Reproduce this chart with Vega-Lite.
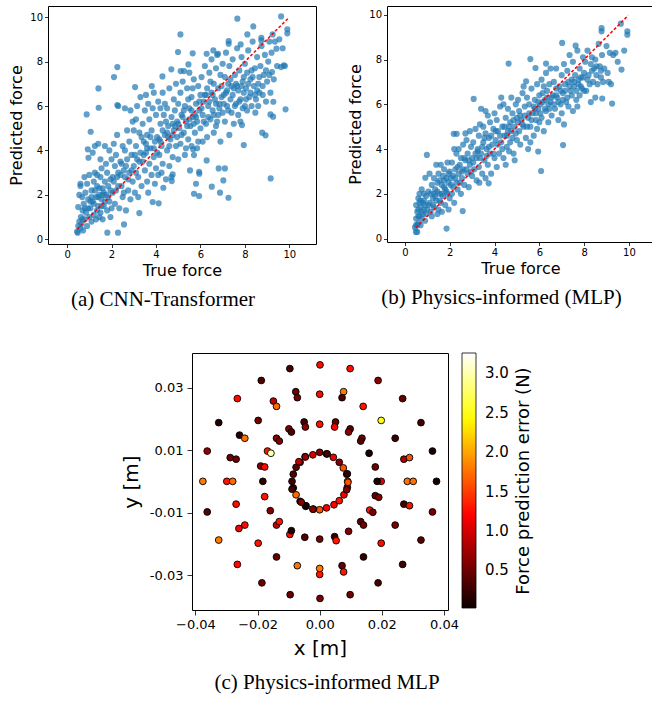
{
"$schema": "https://vega.github.io/schema/vega-lite/v6.json",
"background": "white",
"padding": {"left": 8, "top": 5, "right": 0, "bottom": 0},
"config": {
 "font": "DejaVu Sans",
 "view": {"stroke": "#000", "strokeWidth": 1},
 "axis": {"grid": false, "domain": false, "tickColor": "#000", "tickWidth": 0.8, "labelColor": "#000", "titleColor": "#000", "titleFontWeight": "normal", "labelFont": "DejaVu Sans", "titleFont": "DejaVu Sans"},
 "legend": {"labelColor": "#000", "titleColor": "#000", "labelFont": "DejaVu Sans", "titleFont": "DejaVu Sans"},
 "title": {"font": "Liberation Serif", "fontWeight": "normal", "fontSize": 21, "color": "#000"}
},
"datasets": {
 "a": [
{"t":9.63,"p":10.03},{"t":7.66,"p":9.93},{"t":9.91,"p":9.45},{"t":9.91,"p":9.27},{"t":8.38,"p":9.58},{"t":5.10,"p":9.22},{"t":8.11,"p":9.22},{"t":9.25,"p":9.22},{"t":8.74,"p":9.07},{"t":8.74,"p":8.95},{"t":7.27,"p":8.92},{"t":7.27,"p":8.8},{"t":9.42,"p":8.58},{"t":4.99,"p":8.43},{"t":5.65,"p":8.37},{"t":7.81,"p":8.77},{"t":6.79,"p":8.35},{"t":6.58,"p":8.5},{"t":6.28,"p":8.35},{"t":5.46,"p":7.87},{"t":2.26,"p":7.75},{"t":2.11,"p":7.3},{"t":4.69,"p":7.65},{"t":5.11,"p":7.57},{"t":5.26,"p":7.57},{"t":4.29,"p":7.33},{"t":9.22,"p":7.53},{"t":9.75,"p":7.83},{"t":9.63,"p":7.75},{"t":1.41,"p":6.79},{"t":3.06,"p":6.85},{"t":3.81,"p":6.9},{"t":1.42,"p":5.92},{"t":0.88,"p":5.62},{"t":2.26,"p":6.04},{"t":1.06,"p":4.84},{"t":0.93,"p":4.05},{"t":0.96,"p":3.67},{"t":9.28,"p":6.19},{"t":9.83,"p":5.85},{"t":9.15,"p":5.62},{"t":9.27,"p":5.52},{"t":8.78,"p":4.8},{"t":8.93,"p":4.68},{"t":8.47,"p":5.7},{"t":7.95,"p":4.24},{"t":7.87,"p":5.14},{"t":9.16,"p":2.74},{"t":7.26,"p":1.87},{"t":6.88,"p":2.1},{"t":7.03,"p":2.65},{"t":6.82,"p":3.19},{"t":7.1,"p":3.19},{"t":6.51,"p":2.37},{"t":5.94,"p":1.95},{"t":5.71,"p":2.05},{"t":5.8,"p":2.5},{"t":5.94,"p":3.04},{"t":5.95,"p":2.95},{"t":5.53,"p":3.1},{"t":6.28,"p":3.55},{"t":5.71,"p":3.79},{"t":5.67,"p":4.05},{"t":4.71,"p":2.62},{"t":4.75,"p":2.92},{"t":4.12,"p":1.62},{"t":3.85,"p":1.68},{"t":3.25,"p":1.18},{"t":1.81,"p":0.3},{"t":2.29,"p":0.3},{"t":2.56,"p":0.67},{"t":0.48,"p":0.3},{"t":4.33,"p":2.32},
{"t":0.45,"p":0.35},{"t":0.5,"p":0.6},{"t":0.55,"p":0.8},{"t":0.6,"p":0.5},{"t":0.62,"p":1.0},{"t":0.65,"p":0.7},{"t":0.7,"p":1.3},{"t":0.72,"p":0.4},{"t":0.75,"p":1.6},{"t":0.8,"p":0.9},{"t":0.82,"p":2.1},{"t":0.85,"p":1.2},{"t":0.9,"p":0.6},{"t":0.9,"p":2.5},{"t":0.95,"p":1.8},{"t":1.0,"p":1.0},{"t":0.5,"p":1.45},{"t":0.55,"p":2.0},{"t":0.6,"p":2.5},{"t":0.68,"p":1.9},{"t":0.78,"p":2.8},{"t":1.0,"p":2.9},{"t":0.6,"p":2.4},
{"t":1.05,"p":1.4},{"t":1.1,"p":2.2},{"t":1.1,"p":0.8},{"t":1.15,"p":1.7},{"t":1.2,"p":2.6},{"t":1.2,"p":1.1},{"t":1.25,"p":3.0},{"t":1.3,"p":1.9},{"t":1.3,"p":0.9},{"t":1.35,"p":2.4},{"t":1.4,"p":1.5},{"t":1.4,"p":4.3},{"t":1.45,"p":2.0},{"t":1.5,"p":2.8},{"t":1.5,"p":1.2},{"t":1.55,"p":3.2},{"t":1.55,"p":1.8},{"t":1.6,"p":2.3},{"t":1.6,"p":0.9},{"t":1.65,"p":1.5},{"t":1.7,"p":2.6},{"t":1.7,"p":4.2},{"t":1.75,"p":2.0},{"t":1.8,"p":1.3},{"t":1.8,"p":3.0},{"t":1.85,"p":2.4},{"t":1.9,"p":1.7},{"t":1.9,"p":4.0},{"t":1.95,"p":2.7},{"t":2.0,"p":1.4},{"t":2.0,"p":3.6},{"t":2.05,"p":2.1},{"t":1.25,"p":4.2},{"t":1.5,"p":3.6},{"t":1.15,"p":3.9},{"t":1.35,"p":2.9},{"t":1.45,"p":1.0},{"t":1.65,"p":2.1},{"t":1.75,"p":3.4},{"t":1.95,"p":1.0},
{"t":2.1,"p":2.6},{"t":2.15,"p":1.6},{"t":2.2,"p":3.8},{"t":2.2,"p":2.2},{"t":2.25,"p":4.7},{"t":2.3,"p":3.0},{"t":2.35,"p":1.4},{"t":2.4,"p":3.5},{"t":2.45,"p":2.4},{"t":2.5,"p":4.2},{"t":2.5,"p":1.9},{"t":2.55,"p":3.1},{"t":2.6,"p":2.8},{"t":2.6,"p":4.0},{"t":2.65,"p":1.3},{"t":2.7,"p":3.6},{"t":2.75,"p":2.2},{"t":2.8,"p":4.4},{"t":2.8,"p":3.0},{"t":2.85,"p":1.8},{"t":2.9,"p":3.8},{"t":2.95,"p":2.6},{"t":3.0,"p":4.9},{"t":3.0,"p":3.3},{"t":2.3,"p":6.0},{"t":2.6,"p":5.9},{"t":2.85,"p":5.8},{"t":2.95,"p":5.3},{"t":2.1,"p":4.3},{"t":2.4,"p":2.9},{"t":2.7,"p":4.9},{"t":2.15,"p":3.3},
{"t":3.05,"p":2.1},{"t":3.1,"p":4.2},{"t":3.1,"p":5.4},{"t":3.15,"p":3.6},{"t":3.2,"p":2.8},{"t":3.25,"p":4.8},{"t":3.3,"p":3.9},{"t":3.3,"p":6.4},{"t":3.35,"p":2.4},{"t":3.4,"p":5.2},{"t":3.45,"p":4.4},{"t":3.5,"p":3.1},{"t":3.5,"p":5.8},{"t":3.55,"p":3.9},{"t":3.6,"p":2.6},{"t":3.6,"p":4.7},{"t":3.65,"p":6.1},{"t":3.7,"p":3.4},{"t":3.7,"p":5.4},{"t":3.75,"p":4.1},{"t":3.8,"p":2.9},{"t":3.8,"p":4.9},{"t":3.85,"p":5.9},{"t":3.9,"p":3.7},{"t":3.9,"p":6.6},{"t":3.95,"p":4.4},{"t":4.0,"p":3.2},{"t":4.0,"p":5.6},{"t":3.2,"p":1.9},{"t":3.4,"p":3.5},{"t":3.65,"p":2.1},{"t":3.15,"p":6.0},{"t":3.55,"p":6.5},{"t":3.95,"p":2.5},
{"t":4.05,"p":4.6},{"t":4.1,"p":2.9},{"t":4.1,"p":6.2},{"t":4.15,"p":3.8},{"t":4.2,"p":5.2},{"t":4.25,"p":4.2},{"t":4.3,"p":6.6},{"t":4.3,"p":3.4},{"t":4.35,"p":5.6},{"t":4.4,"p":4.7},{"t":4.45,"p":2.7},{"t":4.5,"p":5.9},{"t":4.5,"p":4.0},{"t":4.55,"p":5.1},{"t":4.6,"p":3.3},{"t":4.6,"p":6.8},{"t":4.65,"p":4.5},{"t":4.7,"p":5.5},{"t":4.75,"p":3.7},{"t":4.8,"p":6.3},{"t":4.8,"p":4.9},{"t":4.85,"p":5.8},{"t":4.9,"p":4.2},{"t":4.9,"p":7.0},{"t":4.95,"p":5.3},{"t":5.0,"p":3.6},{"t":5.0,"p":6.1},{"t":4.2,"p":5.9},{"t":4.4,"p":6.1},{"t":4.7,"p":2.8},{"t":4.25,"p":3.0},{"t":4.55,"p":4.6},{"t":4.75,"p":5.2},{"t":4.95,"p":4.6},
{"t":5.05,"p":5.0},{"t":5.1,"p":6.6},{"t":5.1,"p":4.3},{"t":5.15,"p":5.6},{"t":5.2,"p":7.1},{"t":5.25,"p":4.8},{"t":5.3,"p":6.0},{"t":5.3,"p":3.8},{"t":5.35,"p":5.3},{"t":5.4,"p":6.8},{"t":5.45,"p":4.5},{"t":5.5,"p":5.9},{"t":5.5,"p":7.5},{"t":5.55,"p":5.1},{"t":5.6,"p":6.4},{"t":5.6,"p":4.2},{"t":5.65,"p":5.5},{"t":5.7,"p":7.2},{"t":5.75,"p":4.8},{"t":5.8,"p":6.1},{"t":5.85,"p":5.3},{"t":5.9,"p":6.9},{"t":5.9,"p":4.4},{"t":5.95,"p":5.8},{"t":6.0,"p":6.5},{"t":6.0,"p":5.0},{"t":5.2,"p":5.5},{"t":5.45,"p":6.3},{"t":5.75,"p":5.6},{"t":5.35,"p":4.1},{"t":5.65,"p":6.8},{"t":5.85,"p":4.1},
{"t":6.05,"p":7.3},{"t":6.1,"p":5.6},{"t":6.1,"p":4.4},{"t":6.15,"p":6.2},{"t":6.2,"p":7.8},{"t":6.25,"p":5.2},{"t":6.3,"p":6.8},{"t":6.3,"p":4.6},{"t":6.35,"p":6.0},{"t":6.4,"p":7.5},{"t":6.45,"p":5.4},{"t":6.5,"p":6.6},{"t":6.5,"p":8.1},{"t":6.55,"p":5.8},{"t":6.6,"p":7.0},{"t":6.6,"p":4.8},{"t":6.65,"p":6.3},{"t":6.7,"p":7.7},{"t":6.75,"p":5.3},{"t":6.8,"p":6.8},{"t":6.85,"p":5.9},{"t":6.9,"p":7.4},{"t":6.9,"p":4.4},{"t":6.95,"p":6.4},{"t":7.0,"p":5.7},{"t":7.0,"p":7.9},{"t":6.2,"p":6.5},{"t":6.45,"p":7.1},{"t":6.7,"p":5.1},{"t":6.85,"p":6.1},{"t":6.35,"p":5.5},{"t":6.75,"p":8.3},
{"t":7.05,"p":6.5},{"t":7.1,"p":7.3},{"t":7.1,"p":5.3},{"t":7.15,"p":8.4},{"t":7.2,"p":6.0},{"t":7.25,"p":7.0},{"t":7.3,"p":4.7},{"t":7.3,"p":7.8},{"t":7.35,"p":6.3},{"t":7.4,"p":5.7},{"t":7.45,"p":8.1},{"t":7.5,"p":6.8},{"t":7.5,"p":5.2},{"t":7.55,"p":7.4},{"t":7.6,"p":6.1},{"t":7.65,"p":8.6},{"t":7.7,"p":6.7},{"t":7.7,"p":5.6},{"t":7.75,"p":7.6},{"t":7.8,"p":6.3},{"t":7.85,"p":8.2},{"t":7.9,"p":5.9},{"t":7.9,"p":7.1},{"t":7.95,"p":6.6},{"t":8.0,"p":7.9},{"t":8.0,"p":6.0},{"t":7.2,"p":6.7},{"t":7.6,"p":7.0},{"t":7.8,"p":5.3},{"t":7.4,"p":6.9},
{"t":8.05,"p":6.8},{"t":8.1,"p":7.5},{"t":8.1,"p":5.8},{"t":8.15,"p":8.5},{"t":8.2,"p":6.4},{"t":8.25,"p":7.2},{"t":8.3,"p":6.0},{"t":8.35,"p":8.9},{"t":8.4,"p":6.9},{"t":8.45,"p":7.7},{"t":8.5,"p":6.3},{"t":8.55,"p":8.2},{"t":8.6,"p":7.0},{"t":8.65,"p":6.6},{"t":8.7,"p":7.8},{"t":8.75,"p":8.7},{"t":8.8,"p":6.9},{"t":8.85,"p":7.4},{"t":8.9,"p":8.3},{"t":8.95,"p":6.2},{"t":9.0,"p":7.1},{"t":8.3,"p":7.6},{"t":8.6,"p":6.0},{"t":8.45,"p":6.5},
{"t":9.05,"p":8.0},{"t":9.1,"p":8.9},{"t":9.15,"p":6.6},{"t":9.2,"p":8.4},{"t":9.3,"p":7.2},{"t":9.35,"p":8.9},{"t":9.45,"p":7.8},{"t":9.55,"p":9.0},{"t":9.7,"p":8.6},{"t":9.8,"p":7.8},
{"t":1.2,"p":1.6},{"t":1.35,"p":1.3},{"t":1.45,"p":2.3},{"t":1.55,"p":1.5},{"t":1.6,"p":2.0},{"t":1.7,"p":1.7},{"t":1.85,"p":1.9},{"t":1.4,"p":1.9},{"t":1.25,"p":2.2},{"t":1.1,"p":1.9},{"t":0.95,"p":1.4},{"t":0.7,"p":0.9},{"t":0.8,"p":1.4},{"t":1.05,"p":1.7},{"t":2.25,"p":2.8},{"t":2.45,"p":3.4},{"t":2.65,"p":3.3},{"t":2.3,"p":2.4},{"t":2.55,"p":2.1},{"t":2.9,"p":3.1},{"t":3.1,"p":3.0},{"t":3.25,"p":3.5},{"t":3.45,"p":3.8},{"t":3.6,"p":4.1},{"t":3.75,"p":4.6},{"t":3.9,"p":4.1},{"t":4.05,"p":3.9},{"t":4.15,"p":4.5},{"t":4.3,"p":4.9},{"t":4.45,"p":5.3},{"t":4.6,"p":4.2},{"t":4.75,"p":4.7},{"t":4.85,"p":5.1},{"t":5.0,"p":5.2},{"t":5.15,"p":4.7},{"t":5.25,"p":5.8},{"t":5.4,"p":5.1},{"t":5.5,"p":5.4},{"t":5.6,"p":5.8},{"t":5.7,"p":5.2},{"t":5.8,"p":5.5},{"t":5.95,"p":6.2},{"t":6.05,"p":5.9},{"t":6.15,"p":5.3},{"t":6.25,"p":6.5},{"t":6.4,"p":6.2},{"t":6.55,"p":6.5},{"t":6.6,"p":5.6},{"t":6.7,"p":6.1},{"t":6.8,"p":5.6},{"t":6.95,"p":6.9},{"t":7.05,"p":6.1},{"t":7.15,"p":6.6},{"t":7.25,"p":5.8},{"t":7.35,"p":7.2},{"t":7.45,"p":6.5},{"t":7.55,"p":6.0},{"t":7.65,"p":6.9},{"t":7.75,"p":6.2},{"t":7.85,"p":6.9},{"t":7.95,"p":7.3},{"t":8.05,"p":6.3},{"t":8.15,"p":7.0},{"t":8.25,"p":6.6},{"t":8.35,"p":7.3},{"t":8.55,"p":6.7},{"t":8.65,"p":7.3},{"t":8.8,"p":6.5},{"t":8.95,"p":7.6},{"t":9.1,"p":7.4},{"t":4.5,"p":4.8},{"t":4.2,"p":4.4},{"t":3.55,"p":4.3},{"t":3.35,"p":4.6},{"t":3.05,"p":3.8},{"t":2.75,"p":2.7},{"t":2.05,"p":2.8},{"t":1.95,"p":2.2}
 ],
 "b": [
{"t":4.63,"p":7.82},{"t":3.07,"p":6.24},{"t":0.98,"p":3.74},{"t":1.86,"p":0.45},{"t":6.08,"p":3.02},{"t":5.95,"p":3.89},{"t":7.06,"p":4.18},{"t":9.25,"p":6.03},{"t":8.81,"p":6.26},{"t":9.67,"p":7.55},{"t":9.79,"p":8.4},{"t":9.93,"p":9.26},{"t":9.93,"p":9.11},{"t":8.78,"p":9.4},{"t":8.78,"p":9.26},{"t":9.64,"p":9.6},{"t":7.02,"p":8.74},{"t":7.62,"p":8.62},{"t":5.6,"p":8.02},{"t":6.3,"p":7.82},{"t":5.83,"p":7.62},{"t":5.41,"p":7.03},{"t":2.18,"p":4.68},{"t":2.31,"p":4.68},{"t":2.58,"p":1.23},{"t":3.32,"p":2.5},{"t":3.74,"p":2.47},{"t":0.49,"p":0.3},{"t":0.91,"p":2.72},
{"t":0.45,"p":0.5},{"t":0.5,"p":0.9},{"t":0.5,"p":1.5},{"t":0.55,"p":0.3},{"t":0.55,"p":1.2},{"t":0.6,"p":0.7},{"t":0.6,"p":1.8},{"t":0.65,"p":1.0},{"t":0.65,"p":2.0},{"t":0.7,"p":0.6},{"t":0.7,"p":1.4},{"t":0.75,"p":2.2},{"t":0.75,"p":0.9},{"t":0.8,"p":1.6},{"t":0.8,"p":1.1},{"t":0.85,"p":2.0},{"t":0.9,"p":0.8},{"t":0.9,"p":1.5},{"t":0.95,"p":1.9},{"t":1.0,"p":1.3},{"t":0.6,"p":1.3},{"t":0.7,"p":1.7},{"t":0.85,"p":1.3},{"t":0.5,"p":0.6},
{"t":1.05,"p":2.1},{"t":1.1,"p":1.6},{"t":1.1,"p":2.9},{"t":1.15,"p":1.2},{"t":1.2,"p":2.4},{"t":1.25,"p":1.8},{"t":1.3,"p":2.7},{"t":1.3,"p":1.4},{"t":1.35,"p":2.2},{"t":1.4,"p":3.3},{"t":1.4,"p":1.7},{"t":1.45,"p":2.5},{"t":1.5,"p":1.3},{"t":1.5,"p":2.9},{"t":1.55,"p":2.0},{"t":1.6,"p":3.3},{"t":1.6,"p":1.6},{"t":1.65,"p":2.4},{"t":1.7,"p":2.8},{"t":1.7,"p":1.9},{"t":1.75,"p":3.1},{"t":1.8,"p":2.2},{"t":1.8,"p":1.5},{"t":1.85,"p":2.7},{"t":1.9,"p":3.4},{"t":1.9,"p":2.0},{"t":1.95,"p":2.5},{"t":2.0,"p":1.8},{"t":2.0,"p":3.0},{"t":1.2,"p":1.0},{"t":1.45,"p":1.1},{"t":1.65,"p":1.2},{"t":1.95,"p":1.3},{"t":1.3,"p":2.0},{"t":1.55,"p":2.6},{"t":1.75,"p":2.3},
{"t":2.05,"p":2.4},{"t":2.1,"p":3.4},{"t":2.1,"p":2.0},{"t":2.15,"p":2.8},{"t":2.2,"p":1.6},{"t":2.25,"p":3.1},{"t":2.3,"p":2.5},{"t":2.3,"p":3.8},{"t":2.35,"p":2.2},{"t":2.4,"p":4.0},{"t":2.4,"p":2.9},{"t":2.45,"p":3.3},{"t":2.5,"p":2.0},{"t":2.5,"p":3.6},{"t":2.55,"p":2.7},{"t":2.6,"p":4.2},{"t":2.6,"p":3.1},{"t":2.65,"p":2.4},{"t":2.7,"p":3.5},{"t":2.75,"p":4.4},{"t":2.8,"p":2.9},{"t":2.8,"p":3.8},{"t":2.85,"p":2.3},{"t":2.9,"p":3.3},{"t":2.95,"p":4.1},{"t":3.0,"p":2.8},{"t":3.0,"p":3.6},{"t":2.2,"p":4.0},{"t":2.7,"p":4.7},{"t":2.45,"p":2.5},{"t":2.9,"p":4.8},
{"t":3.05,"p":4.3},{"t":3.1,"p":3.1},{"t":3.15,"p":4.9},{"t":3.2,"p":3.6},{"t":3.2,"p":2.6},{"t":3.25,"p":4.0},{"t":3.3,"p":4.6},{"t":3.3,"p":3.2},{"t":3.35,"p":5.1},{"t":3.4,"p":3.8},{"t":3.45,"p":2.9},{"t":3.5,"p":4.3},{"t":3.5,"p":5.0},{"t":3.55,"p":3.5},{"t":3.6,"p":4.7},{"t":3.6,"p":2.7},{"t":3.65,"p":4.0},{"t":3.7,"p":5.5},{"t":3.7,"p":3.3},{"t":3.75,"p":4.5},{"t":3.8,"p":3.8},{"t":3.8,"p":5.2},{"t":3.85,"p":2.9},{"t":3.9,"p":4.2},{"t":3.95,"p":4.9},{"t":4.0,"p":3.6},{"t":4.0,"p":5.6},{"t":3.4,"p":5.8},{"t":3.6,"p":5.7},{"t":3.25,"p":3.9},
{"t":4.05,"p":4.4},{"t":4.1,"p":5.3},{"t":4.1,"p":3.2},{"t":4.15,"p":4.8},{"t":4.2,"p":3.8},{"t":4.25,"p":5.9},{"t":4.3,"p":4.3},{"t":4.35,"p":5.0},{"t":4.4,"p":3.6},{"t":4.4,"p":6.0},{"t":4.45,"p":4.6},{"t":4.5,"p":5.4},{"t":4.5,"p":3.3},{"t":4.55,"p":4.1},{"t":4.6,"p":5.8},{"t":4.6,"p":4.8},{"t":4.65,"p":3.9},{"t":4.7,"p":5.2},{"t":4.75,"p":6.3},{"t":4.8,"p":4.5},{"t":4.8,"p":5.6},{"t":4.85,"p":3.8},{"t":4.9,"p":5.0},{"t":4.95,"p":6.0},{"t":5.0,"p":4.4},{"t":5.0,"p":5.4},{"t":4.3,"p":6.3},{"t":4.7,"p":4.3},{"t":4.9,"p":3.5},
{"t":5.05,"p":6.2},{"t":5.1,"p":4.8},{"t":5.1,"p":5.7},{"t":5.15,"p":4.2},{"t":5.2,"p":5.3},{"t":5.25,"p":6.5},{"t":5.3,"p":5.0},{"t":5.35,"p":5.9},{"t":5.4,"p":4.5},{"t":5.45,"p":6.3},{"t":5.5,"p":5.4},{"t":5.5,"p":4.0},{"t":5.55,"p":6.0},{"t":5.6,"p":5.0},{"t":5.65,"p":6.7},{"t":5.7,"p":5.6},{"t":5.75,"p":4.6},{"t":5.8,"p":6.2},{"t":5.85,"p":5.3},{"t":5.9,"p":6.9},{"t":5.9,"p":4.9},{"t":5.95,"p":5.8},{"t":6.0,"p":6.4},{"t":6.0,"p":5.2},{"t":5.3,"p":6.8},{"t":5.6,"p":4.3},{"t":5.8,"p":5.8},
{"t":6.05,"p":6.0},{"t":6.1,"p":7.1},{"t":6.1,"p":5.4},{"t":6.15,"p":6.5},{"t":6.2,"p":4.8},{"t":6.25,"p":6.2},{"t":6.3,"p":7.4},{"t":6.3,"p":5.7},{"t":6.35,"p":6.6},{"t":6.4,"p":5.2},{"t":6.45,"p":6.9},{"t":6.5,"p":6.1},{"t":6.5,"p":7.6},{"t":6.55,"p":5.5},{"t":6.6,"p":6.4},{"t":6.65,"p":7.0},{"t":6.7,"p":5.8},{"t":6.75,"p":7.6},{"t":6.8,"p":6.3},{"t":6.85,"p":5.3},{"t":6.9,"p":6.8},{"t":6.95,"p":6.0},{"t":7.0,"p":7.3},{"t":7.0,"p":5.6},{"t":6.4,"p":6.0},{"t":6.75,"p":6.7},{"t":6.2,"p":6.8},
{"t":7.05,"p":6.5},{"t":7.1,"p":7.8},{"t":7.1,"p":5.1},{"t":7.15,"p":6.9},{"t":7.2,"p":6.1},{"t":7.25,"p":7.5},{"t":7.3,"p":5.9},{"t":7.35,"p":8.2},{"t":7.4,"p":6.6},{"t":7.45,"p":7.1},{"t":7.5,"p":5.7},{"t":7.5,"p":7.9},{"t":7.55,"p":6.8},{"t":7.6,"p":7.3},{"t":7.65,"p":6.2},{"t":7.7,"p":8.4},{"t":7.75,"p":6.9},{"t":7.8,"p":7.6},{"t":7.8,"p":6.4},{"t":7.85,"p":7.2},{"t":7.9,"p":6.7},{"t":7.95,"p":8.1},{"t":8.0,"p":7.4},{"t":8.0,"p":6.6},{"t":7.3,"p":7.0},{"t":7.7,"p":5.9},
{"t":8.05,"p":7.9},{"t":8.1,"p":6.6},{"t":8.15,"p":8.4},{"t":8.2,"p":7.3},{"t":8.25,"p":6.9},{"t":8.3,"p":7.8},{"t":8.35,"p":8.1},{"t":8.4,"p":7.0},{"t":8.45,"p":7.6},{"t":8.5,"p":8.0},{"t":8.55,"p":7.3},{"t":8.6,"p":6.9},{"t":8.65,"p":8.7},{"t":8.7,"p":7.7},{"t":8.75,"p":7.5},{"t":8.8,"p":8.2},{"t":8.85,"p":7.0},{"t":8.9,"p":7.6},{"t":9.0,"p":8.6},{"t":8.5,"p":6.3},{"t":8.3,"p":6.1},{"t":9.05,"p":7.4},{"t":9.15,"p":8.3},
{"t":9.2,"p":6.9},{"t":9.3,"p":8.2},{"t":9.4,"p":8.3},{"t":9.5,"p":7.9},{"t":9.1,"p":7.0},
{"t":0.55,"p":0.6},{"t":0.6,"p":1.0},{"t":0.65,"p":1.6},{"t":0.75,"p":1.2},{"t":0.85,"p":1.7},{"t":0.95,"p":1.1},{"t":1.05,"p":1.5},{"t":1.15,"p":2.0},{"t":1.25,"p":1.5},{"t":1.35,"p":1.9},{"t":1.45,"p":2.1},{"t":1.55,"p":1.7},{"t":1.65,"p":2.0},{"t":1.75,"p":2.6},{"t":1.85,"p":2.1},{"t":1.95,"p":2.9},{"t":2.05,"p":2.7},{"t":2.15,"p":2.3},{"t":2.25,"p":2.7},{"t":2.35,"p":3.2},{"t":2.55,"p":3.0},{"t":2.65,"p":3.6},{"t":2.75,"p":3.1},{"t":2.85,"p":3.5},{"t":2.95,"p":3.0},{"t":3.05,"p":3.4},{"t":3.15,"p":3.8},{"t":3.35,"p":3.6},{"t":3.45,"p":4.1},{"t":3.55,"p":4.5},{"t":3.65,"p":3.7},{"t":3.75,"p":4.1},{"t":3.85,"p":4.6},{"t":3.95,"p":3.8},{"t":4.05,"p":4.8},{"t":4.15,"p":4.2},{"t":4.25,"p":4.6},{"t":4.35,"p":4.0},{"t":4.45,"p":5.0},{"t":4.55,"p":4.6},{"t":4.65,"p":5.0},{"t":4.75,"p":4.8},{"t":4.85,"p":5.3},{"t":4.95,"p":4.7},{"t":5.05,"p":5.2},{"t":5.15,"p":5.5},{"t":5.25,"p":5.1},{"t":5.35,"p":5.5},{"t":5.45,"p":5.0},{"t":5.55,"p":5.6},{"t":5.65,"p":5.3},{"t":5.75,"p":5.9},{"t":5.85,"p":5.6},{"t":5.95,"p":6.1},{"t":6.05,"p":5.6},{"t":6.15,"p":6.1},{"t":6.25,"p":5.8},{"t":6.35,"p":6.3},{"t":6.45,"p":5.8},{"t":6.55,"p":6.3},{"t":6.65,"p":6.0},{"t":6.75,"p":6.4},{"t":6.85,"p":6.1},{"t":6.95,"p":6.6},{"t":7.05,"p":6.2},{"t":7.15,"p":6.6},{"t":7.25,"p":6.3},{"t":7.35,"p":6.8},{"t":7.45,"p":6.4},{"t":7.55,"p":7.0},{"t":7.65,"p":6.6},{"t":7.75,"p":7.1},{"t":7.85,"p":6.8},{"t":7.95,"p":7.2},{"t":8.15,"p":7.1},{"t":8.35,"p":7.5},{"t":8.55,"p":7.7},{"t":8.75,"p":7.2}
 ],
 "la": [{"t":0.45,"p":0.45},{"t":9.93,"p":9.93}],
 "lb": [{"t":0.49,"p":0.49},{"t":9.97,"p":9.97}],
 "c": [
{"x":-0.0096,"y":0.0361,"e":0.3},{"x":0.0001,"y":0.0373,"e":1.25},{"x":0.0098,"y":0.0361,"e":1.25},{"x":0.0188,"y":0.0323,"e":0.65},{"x":-0.0188,"y":0.0323,"e":0.35},{"x":-0.0265,"y":0.0265,"e":1.25},{"x":0.0267,"y":0.0265,"e":0.45},{"x":-0.0325,"y":0.0188,"e":0.12},{"x":0.0326,"y":0.0188,"e":0.3},{"x":-0.0362,"y":0.0097,"e":0.7},{"x":0.0363,"y":0.0097,"e":0.1},{"x":-0.0376,"y":0.0,"e":1.8},{"x":0.0376,"y":0.0,"e":0.08},{"x":-0.0362,"y":-0.0098,"e":0.4},{"x":0.0363,"y":-0.0098,"e":0.55},{"x":-0.0325,"y":-0.0188,"e":1.8},{"x":0.0326,"y":-0.0188,"e":0.4},{"x":-0.0265,"y":-0.0266,"e":1.25},{"x":0.0267,"y":-0.0266,"e":0.3},{"x":-0.0186,"y":-0.0325,"e":0.5},{"x":0.0188,"y":-0.0325,"e":0.3},{"x":-0.0095,"y":-0.0363,"e":0.45},{"x":0.0001,"y":-0.0375,"e":0.55},{"x":0.0098,"y":-0.0363,"e":0.5},
{"x":0.0,"y":0.0279,"e":1.25},{"x":-0.0077,"y":0.0287,"e":0.5},{"x":-0.0072,"y":0.0268,"e":0.55},{"x":0.0077,"y":0.0287,"e":1.8},{"x":0.0072,"y":0.0268,"e":0.35},{"x":0.014,"y":0.024,"e":1.3},{"x":-0.0149,"y":0.0257,"e":0.9},{"x":-0.0139,"y":0.024,"e":1.7},{"x":-0.0198,"y":0.0195,"e":0.5},{"x":0.0198,"y":0.0195,"e":2.5},{"x":-0.0258,"y":0.0148,"e":0.15},{"x":-0.0241,"y":0.0138,"e":1.75},{"x":0.0243,"y":0.0138,"e":0.25},{"x":-0.0288,"y":0.0076,"e":0.5},{"x":-0.0269,"y":0.0071,"e":0.5},{"x":0.0271,"y":0.0071,"e":0.8},{"x":0.0289,"y":0.0076,"e":1.6},{"x":-0.0299,"y":0.0,"e":1.3},{"x":-0.028,"y":0.0,"e":1.7},{"x":0.0282,"y":0.0,"e":1.75},{"x":0.0301,"y":0.0,"e":1.75},{"x":-0.0269,"y":-0.0073,"e":1.25},{"x":0.0271,"y":-0.0073,"e":0.3},{"x":0.0289,"y":-0.0078,"e":1.3},{"x":-0.026,"y":-0.0151,"e":1.15},{"x":-0.0241,"y":-0.014,"e":1.25},{"x":0.0243,"y":-0.014,"e":0.55},{"x":-0.0198,"y":-0.0198,"e":1.3},{"x":0.0198,"y":-0.0198,"e":1.25},{"x":-0.0139,"y":-0.0242,"e":0.45},{"x":0.0141,"y":-0.0242,"e":0.2},{"x":-0.0072,"y":-0.027,"e":1.75},{"x":0.0,"y":-0.0298,"e":1.3},{"x":0.0,"y":-0.0279,"e":1.8},{"x":0.0072,"y":-0.027,"e":0.45},{"x":0.0077,"y":-0.029,"e":1.3},
{"x":0.0,"y":0.0183,"e":1.3},{"x":-0.005,"y":0.019,"e":0.3},{"x":-0.0046,"y":0.0174,"e":0.65},{"x":0.0051,"y":0.019,"e":0.45},{"x":0.0048,"y":0.0174,"e":1.2},{"x":-0.0099,"y":0.0168,"e":0.6},{"x":-0.0091,"y":0.0158,"e":0.35},{"x":0.0098,"y":0.0168,"e":0.4},{"x":0.0093,"y":0.0158,"e":0.65},{"x":-0.0139,"y":0.0138,"e":0.65},{"x":-0.013,"y":0.0129,"e":0.6},{"x":0.0136,"y":0.0138,"e":0.55},{"x":0.0132,"y":0.0129,"e":0.4},{"x":-0.0168,"y":0.0097,"e":1.3},{"x":-0.0157,"y":0.009,"e":3.0},{"x":0.0159,"y":0.009,"e":0.1},{"x":-0.019,"y":0.0049,"e":0.6},{"x":-0.0177,"y":0.0046,"e":1.25},{"x":0.0179,"y":0.0046,"e":0.5},{"x":-0.0183,"y":0.0,"e":0.2},{"x":0.0198,"y":0.0,"e":1.1},{"x":0.0185,"y":0.0,"e":0.1},{"x":-0.0177,"y":-0.0049,"e":1.3},{"x":0.0179,"y":-0.0046,"e":0.45},{"x":0.019,"y":-0.0051,"e":0.6},{"x":-0.0159,"y":-0.0094,"e":0.6},{"x":0.0161,"y":-0.0092,"e":1.3},{"x":0.0171,"y":-0.0099,"e":0.55},{"x":-0.0139,"y":-0.014,"e":0.9},{"x":-0.013,"y":-0.0129,"e":1.3},{"x":0.0132,"y":-0.0129,"e":0.4},{"x":0.0141,"y":-0.014,"e":0.55},{"x":-0.0096,"y":-0.017,"e":1.25},{"x":-0.0091,"y":-0.0158,"e":0.1},{"x":-0.0048,"y":-0.0179,"e":0.35},{"x":0.0,"y":-0.0185,"e":0.55},{"x":0.0048,"y":-0.0177,"e":0.2},{"x":0.0053,"y":-0.019,"e":1.3},{"x":0.0093,"y":-0.016,"e":0.6},
{"x":0.0,"y":0.0093,"e":0.6},{"x":-0.0022,"y":0.0085,"e":1.0},{"x":-0.0047,"y":0.0079,"e":0.6},{"x":0.0022,"y":0.0088,"e":0.3},{"x":0.0044,"y":0.0077,"e":1.15},{"x":0.0063,"y":0.0061,"e":0.6},{"x":0.0076,"y":0.0043,"e":1.6},{"x":0.0087,"y":0.0023,"e":0.35},{"x":0.009,"y":0.0,"e":1.7},{"x":0.0089,"y":-0.0019,"e":0.6},{"x":0.0078,"y":-0.0043,"e":1.15},{"x":0.0063,"y":-0.0062,"e":1.3},{"x":0.0046,"y":-0.0075,"e":1.2},{"x":0.0022,"y":-0.0085,"e":1.15},{"x":0.0,"y":-0.0091,"e":1.6},{"x":-0.002,"y":-0.0089,"e":1.15},{"x":-0.0044,"y":-0.0078,"e":0.1},{"x":-0.0063,"y":-0.0064,"e":0.3},{"x":-0.0076,"y":-0.0043,"e":1.7},{"x":-0.0085,"y":-0.0021,"e":0.3},{"x":-0.0089,"y":0.0,"e":0.3},{"x":-0.0085,"y":0.0023,"e":0.35},{"x":-0.0076,"y":0.0045,"e":0.4},{"x":-0.0063,"y":0.0061,"e":0.55},{"x":-0.0067,"y":0.0063,"e":0.9},{"x":0.0089,"y":0.0024,"e":0.2},{"x":-0.0045,"y":-0.008,"e":0.05},{"x":-0.0059,"y":-0.0067,"e":0.6},{"x":0.0087,"y":-0.0027,"e":0.6},{"x":0.0091,"y":-0.0003,"e":1.6},{"x":0.0024,"y":0.0088,"e":0.3},{"x":-0.0046,"y":0.0078,"e":0.7},{"x":-0.0089,"y":-0.0025,"e":0.3},{"x":-0.0022,"y":-0.0089,"e":0.6}
 ]
},
"spacing": 347,
"bounds": "flush",
"vconcat": [
 {
  "hconcat": [
   {
    "width": 268, "height": 238,
    "title": {"text": "(a) CNN-Transformer", "orient": "bottom", "dx": -19, "offset": 10},
    "layer": [
     {"data": {"name": "a"}, "mark": {"type": "circle", "color": "#1f77b4", "opacity": 0.7, "size": 38},
      "encoding": {
       "x": {"field": "t", "type": "quantitative", "title": "True force", "scale": {"domain": [-0.86, 11.2], "nice": false, "zero": false}, "axis": {"values": [0,2,4,6,8,10], "format": "d", "tickSize": 3.5, "labelFontSize": 10, "labelPadding": 2, "titleFontSize": 16, "titlePadding": 3}},
       "y": {"field": "p", "type": "quantitative", "title": "Predicted force", "scale": {"domain": [-0.21, 10.5], "nice": false, "zero": false}, "axis": {"values": [0,2,4,6,8,10], "format": "d", "tickSize": 3.5, "labelFontSize": 10, "labelPadding": 2, "titleFontSize": 16, "titlePadding": 5}}
      }},
     {"data": {"name": "la"}, "mark": {"type": "line", "color": "#ff0000", "strokeDash": [3, 2], "strokeWidth": 1.5},
      "encoding": {"x": {"field": "t", "type": "quantitative"}, "y": {"field": "p", "type": "quantitative"}}}
    ]
   },
   {
    "width": 267, "height": 236,
    "title": {"text": "(b) Physics-informed (MLP)", "orient": "bottom", "dx": -19, "offset": 10},
    "layer": [
     {"data": {"name": "b"}, "mark": {"type": "circle", "color": "#1f77b4", "opacity": 0.7, "size": 38},
      "encoding": {
       "x": {"field": "t", "type": "quantitative", "title": "True force", "scale": {"domain": [-0.8, 11.12], "nice": false, "zero": false}, "axis": {"values": [0,2,4,6,8,10], "format": "d", "tickSize": 3.5, "labelFontSize": 10, "labelPadding": 2, "titleFontSize": 16, "titlePadding": 3}},
       "y": {"field": "p", "type": "quantitative", "title": "Predicted force", "scale": {"domain": [-0.15, 10.39], "nice": false, "zero": false}, "axis": {"values": [0,2,4,6,8,10], "format": "d", "tickSize": 3.5, "labelFontSize": 10, "labelPadding": 2, "titleFontSize": 16, "titlePadding": 5}}
      }},
     {"data": {"name": "lb"}, "mark": {"type": "line", "color": "#ff0000", "strokeDash": [3, 2], "strokeWidth": 1.5},
      "encoding": {"x": {"field": "t", "type": "quantitative"}, "y": {"field": "p", "type": "quantitative"}}}
    ]
   }
  ],
  "spacing": 71,
  "bounds": "flush"
 },
 {
  "hconcat": [
   {"width": 1, "height": 1, "data": {"values": []}, "mark": "point", "view": {"stroke": null}},
   {
    "width": 256, "height": 257,
    "title": {"text": "(c) Physics-informed MLP", "orient": "bottom", "dx": 7, "offset": 14},
    "data": {"name": "c"},
    "mark": {"type": "circle", "size": 46, "opacity": 1, "stroke": "#000", "strokeWidth": 0.9},
    "encoding": {
     "x": {"field": "x", "type": "quantitative", "title": "x [m]", "scale": {"domain": [-0.0411, 0.0413], "nice": false, "zero": false}, "axis": {"values": [-0.04,-0.02,0,0.02,0.04], "format": ".2f", "tickSize": 5, "labelFontSize": 13, "labelPadding": 3, "titleFontSize": 20, "titlePadding": 7}},
     "y": {"field": "y", "type": "quantitative", "title": "y [m]", "scale": {"domain": [-0.0412, 0.0411], "nice": false, "zero": false}, "axis": {"values": [-0.03,-0.01,0.01,0.03], "labelExpr": "replace(format(datum.value, '.2f'), '−', '-')", "tickSize": 5, "labelFontSize": 13, "labelPadding": 4, "titleFontSize": 20, "titlePadding": 8}},
     "color": {"field": "e", "type": "quantitative",
      "scale": {"domain": [0.02, 1.2026, 2.437, 3.26], "range": ["#0b0000", "#ff0000", "#ffff00", "#ffffff"], "interpolate": "rgb", "nice": false, "zero": false},
      "legend": {"title": "Force prediction error (N)", "orient": "right", "offset": 14, "padding": 0, "gradientLength": 255, "gradientThickness": 14, "gradientStrokeColor": "#000", "gradientStrokeWidth": 0.8, "values": [0.5,1,1.5,2,2.5,3], "format": ".1f", "labelFontSize": 15, "labelOffset": 9, "titleFontSize": 18, "titleFontWeight": "normal", "titleOrient": "right", "titleAnchor": "middle", "titlePadding": 6, "titleLimit": 400, "encoding": {"title": {"angle": {"value": -90}, "baseline": {"value": "top"}}}}}
    }
   }
  ],
  "spacing": 143,
  "bounds": "flush",
  "resolve": {"scale": {"color": "independent"}, "legend": {"color": "independent"}}
 }
]
}
